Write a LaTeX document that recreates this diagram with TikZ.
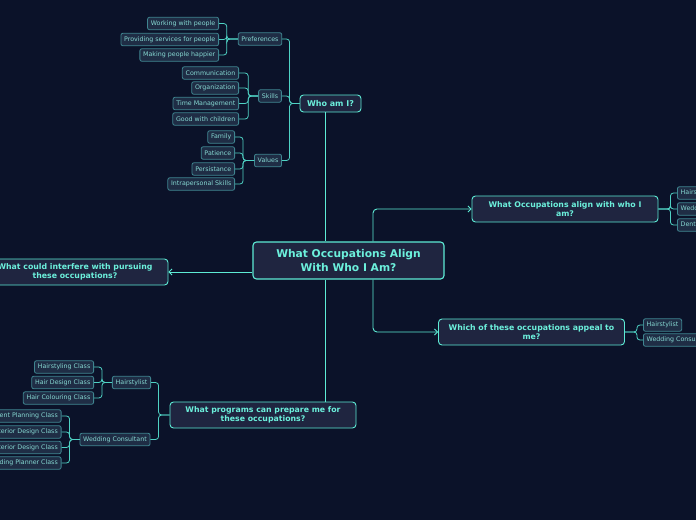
\documentclass[tikz,border=0pt]{standalone}
\usepackage{fontspec}
\setmainfont{DejaVu Sans}
\usetikzlibrary{arrows.meta}

\definecolor{bgnavy}{HTML}{0B1229}
\definecolor{topfill}{HTML}{1F2540}
\definecolor{topline}{HTML}{5DEBD5}
\definecolor{toptext}{HTML}{6CF0DC}
\definecolor{leaffill}{HTML}{1F2D45}
\definecolor{leafline}{HTML}{3F8590}
\definecolor{leaftext}{HTML}{86D8D2}
\definecolor{twigline}{HTML}{4FD2C4}

\tikzset{
  centerbox/.style={draw=topline, fill=topfill, line width=1.1pt, rounded corners=3.5pt,
    text=toptext, align=center, font=\fontsize{10.7}{14}\selectfont\bfseries,
    minimum width=191pt, minimum height=37pt, inner sep=0pt},
  topicbox/.style={draw=topline, fill=topfill, line width=0.9pt, rounded corners=3.5pt,
    text=toptext, align=center, font=\fontsize{7.8}{9}\selectfont\bfseries,
    minimum width=186pt, minimum height=26pt, inner sep=0pt},
  whobox/.style={topicbox, font=\fontsize{8}{9}\selectfont\bfseries,
    minimum width=61pt, minimum height=17pt},
  leafbox/.style={draw=leafline, fill=leaffill, line width=0.8pt, rounded corners=2pt,
    text=leaftext, font=\fontsize{6.3}{7}\selectfont,
    minimum height=12.5pt, inner xsep=3.3pt, inner ysep=0pt},
  mainline/.style={draw=topline, line width=0.9pt, rounded corners=4pt},
  twig/.style={draw=twigline, line width=0.8pt, rounded corners=3pt},
  tip/.style={-{Straight Barb[length=3pt,width=6pt]}}
}

\begin{document}
\begin{tikzpicture}[x=1pt,y=-1pt]
\fill[bgnavy] (0,0) rectangle (696,520);
\useasboundingbox (0,0) rectangle (696,520);
\clip (0,0) rectangle (696,520);

% main topic and first level
\node[centerbox] (center) at (348.5,260.5) {What Occupations Align\\With Who I Am?};
\node[whobox] (whoami) at (330.5,103.5) {Who am I?};
\node[topicbox] (occalign) at (565,209) {What Occupations align with who I\\am?};
\node[topicbox] (appeal) at (531.5,332) {Which of these occupations appeal to\\me?};
\node[topicbox] (interfere) at (75,272) {What could interfere with pursuing\\these occupations?};
\node[topicbox] (programs) at (263,415) {What programs can prepare me for\\these occupations?};

\coordinate (spine) at (325,0);
\coordinate (rbranch) at (373,0);

\draw[mainline] (whoami.south -| spine) -- (center.north -| spine);
\draw[mainline] (center.south -| spine) -- (programs.north -| spine);
\draw[mainline,tip] (center.north -| rbranch) |- (occalign.west);
\draw[mainline,tip] (center.south -| rbranch) |- (appeal.west);
\draw[mainline,tip] (interfere.east -| center.west) -- (interfere.east);

% who am I
\node[leafbox] (prefs) at (260,39) {Preferences};
\node[leafbox] (skills) at (270,96) {Skills};
\node[leafbox] (values) at (268,160.5) {Values};

\node[leafbox,anchor=east] (working) at (219,23.5) {Working with people};
\node[leafbox,anchor=east] (providing) at (219,39.5) {Providing services for people};
\node[leafbox,anchor=east] (making) at (219,55) {Making people happier};

\node[leafbox,anchor=east] (comm) at (239,73) {Communication};
\node[leafbox,anchor=east] (org) at (239,88) {Organization};
\node[leafbox,anchor=east] (timemgmt) at (239,103.5) {Time Management};
\node[leafbox,anchor=east] (goodkids) at (239,119) {Good with children};

\node[leafbox,anchor=east] (family) at (235,137) {Family};
\node[leafbox,anchor=east] (patience) at (235,153) {Patience};
\node[leafbox,anchor=east] (persist) at (235,169) {Persistance};
\node[leafbox,anchor=east] (intra) at (235,184) {Intrapersonal Skills};

\foreach \leaf in {prefs,skills,values}
  \draw[twig] (whoami.west) -- ++(-10,0) |- (\leaf.east);
\foreach \leaf in {working,providing,making}
  \draw[twig] (prefs.west) -- ++(-11,0) |- (\leaf.east);
\foreach \leaf in {comm,org,timemgmt,goodkids}
  \draw[twig] (skills.west) -- ++(-10,0) |- (\leaf.east);
\foreach \leaf in {family,patience,persist,intra}
  \draw[twig] (values.west) -- ++(-11,0) |- (\leaf.east);

% occupations that align
\node[leafbox,anchor=west] (hairA) at (677,193) {Hairstylist};
\node[leafbox,anchor=west] (weddingA) at (677,209) {Wedding Consultant};
\node[leafbox,anchor=west] (dentalA) at (677,225) {Dental Hygienist};
\foreach \leaf in {hairA,weddingA,dentalA}
  \draw[twig] (occalign.east) -- ++(12,0) |- (\leaf.west);

% occupations that appeal
\node[leafbox,anchor=west] (hairB) at (643,325) {Hairstylist};
\node[leafbox,anchor=west] (weddingB) at (643,340) {Wedding Consultant};
\foreach \leaf in {hairB,weddingB}
  \draw[twig] (appeal.east) -- ++(12,0) |- (\leaf.west);

% programs
\node[leafbox] (hairC) at (131.5,382.5) {Hairstylist};
\node[leafbox] (weddingC) at (115,439.5) {Wedding Consultant};

\node[leafbox,anchor=east] (styling) at (94,367) {Hairstyling Class};
\node[leafbox,anchor=east] (hdesign) at (94,382.5) {Hair Design Class};
\node[leafbox,anchor=east] (colouring) at (94,398) {Hair Colouring Class};

\node[leafbox,anchor=east] (eventpl) at (61.5,416) {Event Planning Class};
\node[leafbox,anchor=east] (interior) at (61.5,432) {Interior Design Class};
\node[leafbox,anchor=east] (exterior) at (61.5,447.5) {Exterior Design Class};
\node[leafbox,anchor=east] (weddingpl) at (61.5,463) {Wedding Planner Class};

\foreach \leaf in {hairC,weddingC}
  \draw[twig] (programs.west) -- ++(-11,0) |- (\leaf.east);
\foreach \leaf in {styling,hdesign,colouring}
  \draw[twig] (hairC.west) -- ++(-10,0) |- (\leaf.east);
\foreach \leaf in {eventpl,interior,exterior,weddingpl}
  \draw[twig] (weddingC.west) -- ++(-10,0) |- (\leaf.east);
\end{tikzpicture}
\end{document}
